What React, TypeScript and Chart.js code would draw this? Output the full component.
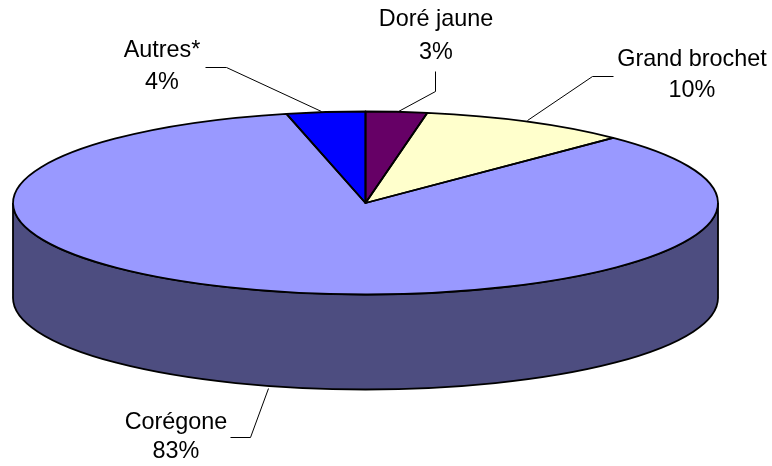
import React, { useEffect, useRef } from "react";
import { Chart, registerables } from "chart.js";

Chart.register(...registerables);

const categories = ["Doré jaune", "Grand brochet", "Corégone", "Autres*"];
const shareLabels = ["3%", "10%", "83%", "4%"];
// slice sizes (labels above are rounded in the source)
const shares = [2.8, 9.6, 84, 3.6];
const topColors = ["#660066", "#FFFFCC", "#9999FF", "#0000FF"];
const sideColors = ["#330033", "#808066", "#4D4D80", "#000080"];

// Projection of the flat pie onto the tilted disc
const CX = 365.5;
const CY = 203;
const RX = 352.5;
const RY = 91.5;
const DEPTH = 95;

// Label anchors (text centre) and leader-line paths, one per category
const labelAnchors = [
  { x: 436, y1: 20, y2: 53 },
  { x: 692, y1: 60, y2: 91 },
  { x: 176, y1: 423, y2: 452 },
  { x: 162, y1: 51, y2: 83 },
];
const leaders = [
  [[435, 71], [435, 91], [398, 111]],
  [[613, 76], [592, 76], [527, 120]],
  [[230, 437], [250, 437], [268, 388]],
  [[205, 67], [226, 67], [321, 111]],
];

const pieProjection = {
  id: "pieProjection",
  beforeDatasetsDraw(chart: any) {
    const ctx = chart.ctx;
    const arcs = chart.getDatasetMeta(0).data;
    // side wall: only the front half (canvas angles 0..PI) is visible
    arcs.forEach((arc: any, i: number) => {
      [0, Math.PI * 2].forEach((shift) => {
        const s = Math.max(arc.startAngle, shift);
        const e = Math.min(arc.endAngle, shift + Math.PI);
        if (e <= s) return;
        ctx.save();
        ctx.beginPath();
        ctx.ellipse(CX, CY, RX, RY, 0, s, e);
        ctx.ellipse(CX, CY + DEPTH, RX, RY, 0, e, s, true);
        ctx.closePath();
        ctx.fillStyle = sideColors[i];
        ctx.fill();
        ctx.strokeStyle = "#000";
        ctx.lineWidth = 1.8;
        ctx.stroke();
        ctx.restore();
      });
    });
    const a0 = arcs[0];
    ctx.save();
    ctx.translate(CX, CY);
    ctx.scale(RX / a0.outerRadius, RY / a0.outerRadius);
    ctx.translate(-a0.x, -a0.y);
  },
  afterDatasetsDraw(chart: any) {
    const ctx = chart.ctx;
    ctx.restore();
    const arcs = chart.getDatasetMeta(0).data;
    // slice outlines, stroked after the transform so the pen stays even
    arcs.forEach((arc: any) => {
      ctx.beginPath();
      ctx.moveTo(CX, CY);
      ctx.ellipse(CX, CY, RX, RY, 0, arc.startAngle, arc.endAngle);
      ctx.closePath();
      ctx.strokeStyle = "#000";
      ctx.lineWidth = 1.8;
      ctx.lineJoin = "round";
      ctx.stroke();
    });
    // leader lines
    ctx.strokeStyle = "#000";
    ctx.lineWidth = 1;
    leaders.forEach((pts) => {
      ctx.beginPath();
      pts.forEach(([x, y], k) => (k ? ctx.lineTo(x + 0.5, y + 0.5) : ctx.moveTo(x + 0.5, y + 0.5)));
      ctx.stroke();
    });
    // labels
    ctx.fillStyle = "#000";
    ctx.font = '23.4px "Liberation Sans", Arial, sans-serif';
    ctx.textAlign = "center";
    ctx.textBaseline = "middle";
    categories.forEach((name, i) => {
      const a = labelAnchors[i];
      ctx.fillText(name, a.x, a.y1);
      ctx.fillText(shareLabels[i], a.x, a.y2);
    });
  },
};

export default function App() {
  const ref = useRef<HTMLCanvasElement>(null);
  useEffect(() => {
    const chart = new Chart(ref.current as HTMLCanvasElement, {
      type: "pie",
      data: {
        labels: categories,
        datasets: [
          {
            data: shares,
            backgroundColor: topColors,
            borderWidth: 0,
            clip: false,
          } as any,
        ],
      },
      options: {
        responsive: false,
        animation: false,
        layout: { padding: 0 },
        plugins: { legend: { display: false }, tooltip: { enabled: false } },
      },
      plugins: [pieProjection],
    });
    return () => chart.destroy();
  }, []);
  return (
    <canvas
      ref={ref}
      width={772}
      height={466}
      style={{ position: "absolute", left: 0, top: 0, display: "block", background: "#fff" }}
    />
  );
}
